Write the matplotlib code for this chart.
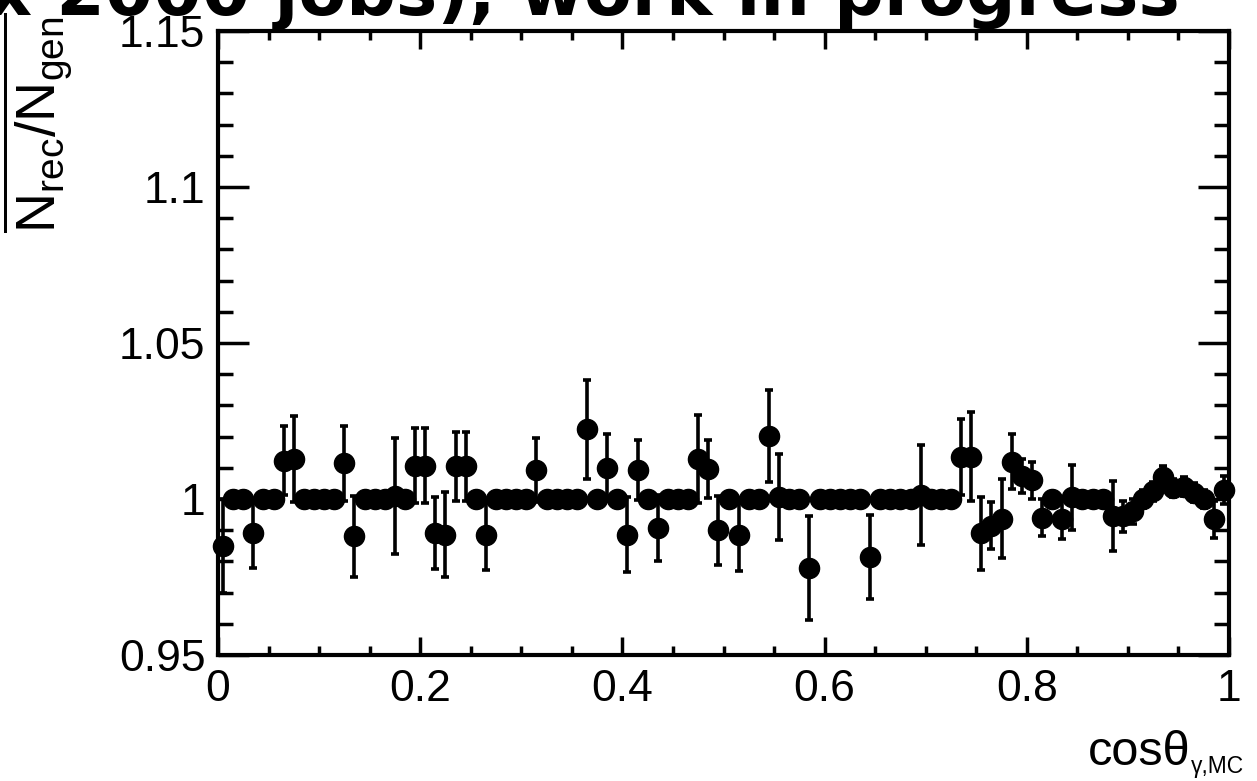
import numpy as np
import matplotlib
matplotlib.use('Agg')
from matplotlib import pyplot as plt
from matplotlib import font_manager
from matplotlib.ticker import MultipleLocator

# ratio of reconstructed / generated per cos(theta) bin, 100 bins of width 0.01
ratio = [0.985, 1, 1, 0.989, 1, 1, 1.0123, 1.0128, 1, 1,
         1, 1, 1.0115, 0.988, 1, 1, 1, 1.001, 1, 1.0107,
         1.0107, 0.989, 0.9886, 1.0105, 1.0105, 1, 0.9886, 1, 1, 1,
         1, 1.0094, 1, 1, 1, 1, 1.0223, 1, 1.0100, 1,
         0.9886, 1.0094, 1, 0.9907, 1, 1, 1, 1.0128, 1.0097, 0.990,
         1, 0.9886, 1, 1, 1.0202, 1.0007, 1, 1, 0.9778, 1,
         1, 1, 1, 1, 0.9815, 1, 1, 1, 1, 1.0013,
         1, 1, 1, 1.0135, 1.0135, 0.989, 0.9915, 0.9937, 1.012, 1.0074,
         1.006, 0.994, 1, 0.9935, 1.0005, 1, 1, 1, 0.9946, 0.9944,
         0.996, 1.0, 1.0025, 1.007, 1.0035, 1.004, 1.002, 1.0, 0.9935, 1.003]
ratio_err = [0.015, 0, 0, 0.011, 0, 0, 0.011, 0.0137, 0, 0,
             0, 0, 0.012, 0.013, 0, 0, 0, 0.0187, 0, 0.012,
             0.012, 0.0115, 0.0136, 0.011, 0.011, 0, 0.0112, 0, 0, 0,
             0, 0.0103, 0, 0, 0, 0, 0.016, 0, 0.0107, 0,
             0.012, 0.0096, 0, 0.0105, 0, 0, 0, 0.014, 0.0093, 0.011,
             0, 0.0116, 0, 0, 0.0147, 0.0137, 0, 0, 0.0166, 0,
             0, 0, 0, 0, 0.0135, 0, 0, 0, 0, 0.016,
             0, 0, 0, 0.0122, 0.0143, 0.0116, 0.0075, 0.0126, 0.0088, 0.0055,
             0.006, 0.006, 0, 0.0063, 0.0105, 0, 0, 0, 0.0113, 0.005,
             0.004, 0.003, 0.003, 0.0035, 0.003, 0.003, 0.003, 0.003, 0.006, 0.0045]
bin_edges = np.linspace(0, 1, 101)
x_ticks = [0, 0.2, 0.4, 0.6, 0.8, 1]
x_ticklabels = ['0', '0.2', '0.4', '0.6', '0.8', '1']
y_ticks = [0.95, 1.0, 1.05, 1.1, 1.15]
y_ticklabels = ['0.95', '1', '1.05', '1.1', '1.15']

#ROOT-like narrow helvetica if we have it
names = {f.name for f in font_manager.fontManager.ttflist}
main_font = 'Liberation Sans Narrow' if 'Liberation Sans Narrow' in names else 'Liberation Sans'
plt.rcParams['font.family'] = [main_font, 'DejaVu Sans']
plt.rcParams['mathtext.fontset'] = 'custom'
plt.rcParams['mathtext.rm'] = main_font
plt.rcParams['mathtext.it'] = main_font
plt.rcParams['mathtext.bf'] = main_font

centers = 0.5 * (bin_edges[:-1] + bin_edges[1:])

fig = plt.figure(figsize=(12.57, 7.81), dpi=100)
ax = fig.add_axes([218/1257, 1 - 655/781, 1011/1257, 624/781])

eb = ax.errorbar(centers, ratio, yerr=ratio_err, fmt='o', color='black', ms=14.5,
                 elinewidth=2.6, capsize=3, capthick=2.6, zorder=3)
eb.lines[0].set_clip_on(False)
for art in list(eb.lines[1]) + list(eb.lines[2]):
    art.set_clip_on(False)

ax.set_xlim(0, 1)
ax.set_ylim(0.95, 1.15)
ax.set_xticks(x_ticks)
ax.set_xticklabels(x_ticklabels)
ax.set_yticks(y_ticks)
ax.set_yticklabels(y_ticklabels)
ax.xaxis.set_minor_locator(MultipleLocator(0.05))
ax.yaxis.set_minor_locator(MultipleLocator(0.01))
ax.tick_params(which='both', direction='in', top=True, right=True, width=2.5, labelsize=32)
ax.tick_params(axis='x', which='major', length=13, pad=10)
ax.tick_params(axis='x', which='minor', length=6.5)
ax.tick_params(axis='y', which='major', length=22, pad=9)
ax.tick_params(axis='y', which='minor', length=11)
for sp in ax.spines.values():
    sp.set_linewidth(3)

# x title: ROOT puts a small subscript, so two pieces
fig.text(1190/1257, 1 - 765/781, 'cosθ', ha='right', va='baseline', fontsize=35)
fig.text(1191/1257, 1 - 773/781, 'γ,MC', ha='left', va='baseline', fontsize=16.5)
ax.text(-0.179, 1.03, r'$\overline{\mathrm{N}_{\mathrm{rec}}/\mathrm{N}_{\mathrm{gen}}}$',
        transform=ax.transAxes, rotation=90, ha='center', va='top', fontsize=40)

fig.text(1180/1257, 1 - 15/781, '(MC x 2000 jobs), work in progress', ha='right',
         va='baseline', fontsize=50, fontweight='bold', family='DejaVu Sans')

fig.savefig('out.png', dpi=100)
plt.close('all')
